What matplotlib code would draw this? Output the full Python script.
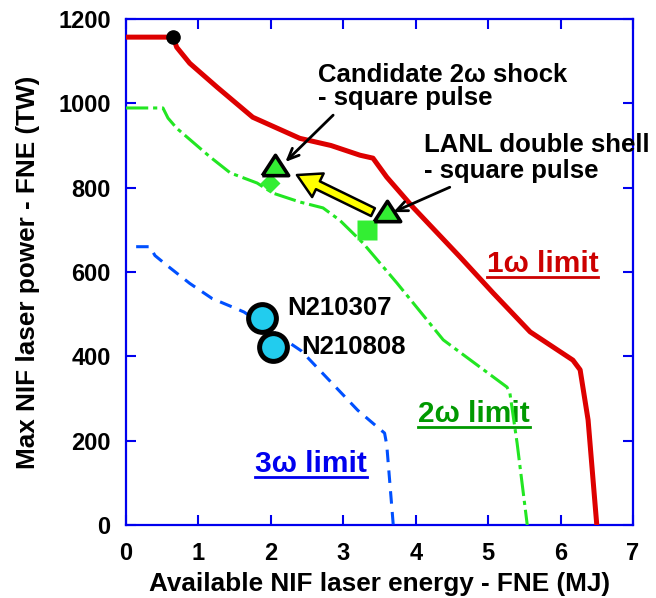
import matplotlib
matplotlib.use("Agg")
import matplotlib.pyplot as plt
from matplotlib.lines import Line2D

plt.rcParams['font.family'] = ['Liberation Sans', 'DejaVu Sans']
plt.rcParams['font.weight'] = 'bold'
plt.rcParams['lines.scale_dashes'] = False

# ---------------- data ----------------
red_x = [0, 0.65, 0.70, 0.88, 1.26, 1.75, 2.40, 2.83, 3.23, 3.41, 3.60, 3.96, 4.61, 5.07, 5.58, 6.17, 6.27, 6.38, 6.50]
red_y = [1157, 1157, 1133, 1095, 1038, 967, 917, 900, 877, 870, 825, 754, 636, 550, 458, 391, 368, 249, 0]

green_x = [0, 0.51, 0.58, 0.70, 1.16, 1.44, 1.81, 2.03, 2.40, 2.72, 2.95, 3.27, 3.74, 4.38, 5.26, 5.30, 5.40, 5.54]
green_y = [989, 989, 965, 941, 873, 835, 811, 787, 766, 752, 723, 669, 574, 439, 327, 313, 194, 0]

blue_x = [0.14, 0.33, 0.40, 0.57, 0.88, 1.19, 1.51, 1.63, 2.42, 3.20, 3.50, 3.57, 3.60, 3.69]
blue_y = [660, 660, 639, 615, 573, 537, 514, 505, 413, 272, 228, 218, 190, 0]

start_point = (0.65, 1157)
tri_x = [2.06, 3.60]
tri_y = [854, 745]
square_pt = (3.33, 700)
diamond_pt = (1.99, 811)
shot_x = [1.88, 2.03]
shot_y = [490, 421]
shot_names = ['N210307', 'N210808']

x_ticks = [0, 1, 2, 3, 4, 5, 6, 7]
y_ticks = [0, 200, 400, 600, 800, 1000, 1200]

# ---------------- figure ----------------
fig = plt.figure(figsize=(6.56, 5.98), dpi=100)
ax = fig.add_axes([126/656, 73/598, 507/656, 506/598])

ax.plot(red_x, red_y, color='#DD0000', lw=3.6, solid_joinstyle='round', zorder=3)
ax.plot(green_x, green_y, color='#22E622', lw=2.2, dashes=(16, 3.5, 3, 3.5), zorder=3)
ax.plot(blue_x, blue_y, color='#0050FF', lw=2.2, dashes=(9, 6), zorder=3)

ax.plot(*start_point, 'o', color='black', ms=9.5, zorder=5)
ax.plot(*diamond_pt, 'D', color='#33EE33', ms=10, mec='none', zorder=4)
ax.plot(*square_pt, 's', color='#33EE33', ms=14.5, mec='none', zorder=4)
tri_marker = [(-1, -0.77), (1, -0.77), (0, 0.77), (-1, -0.77)]
ax.plot(tri_x, tri_y, ls='none', marker=tri_marker, ms=19, mfc='#33EE33',
        mec='black', mew=2.6, zorder=6)
ax.plot(shot_x, shot_y, 'o', ls='none', ms=20, mfc='#22CCEE', mec='black',
        mew=3.6, zorder=6)

# yellow arrow
ax.annotate('', xy=(2.36, 830), xytext=(3.41, 742),
            arrowprops=dict(arrowstyle='simple,head_length=1.2,head_width=1.35,tail_width=0.45',
                            fc='#FFFF00', ec='black', lw=1.8, shrinkA=0, shrinkB=0,
                            mutation_scale=14), zorder=5)
# black arrows
ax.annotate('', xy=(2.20, 861), xytext=(2.86, 972),
            arrowprops=dict(arrowstyle='->,head_length=0.8,head_width=0.35',
                            color='black', lw=2, shrinkA=0, shrinkB=0), zorder=7)
ax.annotate('', xy=(3.69, 742), xytext=(4.47, 801),
            arrowprops=dict(arrowstyle='->,head_length=0.8,head_width=0.35',
                            color='black', lw=2, shrinkA=0, shrinkB=0), zorder=7)

fs = 18.5
ax.text(2.65, 1050, 'Candidate 2ω shock', fontsize=fs, fontweight='bold', va='baseline', ha='left')
ax.text(2.65, 996, '- square pulse', fontsize=fs, fontweight='bold', va='baseline', ha='left')
ax.text(4.11, 885, 'LANL double shell', fontsize=fs, fontweight='bold', va='baseline', ha='left')
ax.text(4.11, 823, '- square pulse', fontsize=fs, fontweight='bold', va='baseline', ha='left')
ax.text(2.22, 498, shot_names[0], fontsize=fs, fontweight='bold', va='baseline', ha='left')
ax.text(2.42, 405, shot_names[1], fontsize=fs, fontweight='bold', va='baseline', ha='left')

lfs = 21.5
lim_texts = [
    ax.text(4.98, 600, '1ω limit', fontsize=lfs, fontweight='bold', color='#CC0000', va='baseline', ha='left', zorder=2),
    ax.text(4.03, 244, '2ω limit', fontsize=lfs, fontweight='bold', color='#009900', va='baseline', ha='left', zorder=2),
    ax.text(1.78, 126, '3ω limit', fontsize=lfs, fontweight='bold', color='#0000EE', va='baseline', ha='left', zorder=2),
]

ax.set_xlim(0, 7)
ax.set_ylim(0, 1200)
ax.set_xticks(x_ticks)
ax.set_yticks(y_ticks)
ax.set_xticklabels([str(v) for v in x_ticks], fontsize=17, fontweight='bold')
ax.set_yticklabels([str(v) for v in y_ticks], fontsize=17, fontweight='bold')
ax.tick_params(axis='both', direction='in', color='#0000EE', length=7, width=1.5,
               top=True, right=True)
ax.tick_params(axis='x', pad=12)
ax.tick_params(axis='y', pad=11)
for s in ax.spines.values():
    s.set_color('#0000EE')
    s.set_linewidth(1.6)

ax.set_xlabel('Available NIF laser energy - FNE (MJ)', fontsize=18.8, fontweight='bold', labelpad=5)
ax.set_ylabel('Max NIF laser power - FNE (TW)', fontsize=18.8, fontweight='bold', labelpad=13)

# underline the limit labels
fig.canvas.draw()
inv = fig.transFigure.inverted()
for t in lim_texts:
    bb = t.get_window_extent()
    y = bb.y0 + 1
    (x0, yy), (x1, _) = inv.transform([(bb.x0, y), (bb.x1, y)])
    fig.add_artist(Line2D([x0, x1], [yy, yy], color=t.get_color(), lw=2))

fig.savefig('out.png', dpi=100)
